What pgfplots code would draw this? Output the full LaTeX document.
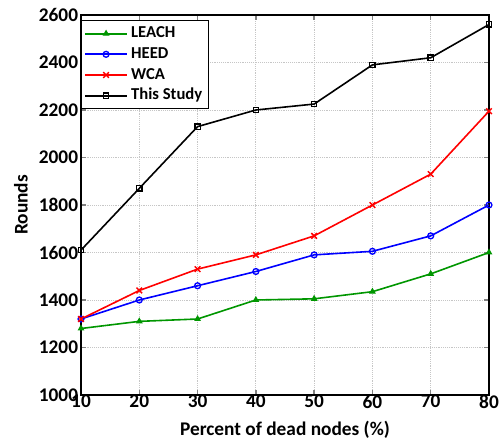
\documentclass[border=0pt]{standalone}
\usepackage{fontspec}
\setmainfont{Carlito}
\usepackage{pgfplots}
\pgfplotsset{compat=1.18}
\begin{document}
\bfseries\fontsize{14.5}{16}\selectfont
\begin{tikzpicture}
\begin{axis}[
  scale only axis,
  width=306pt, height=285pt,
  xmin=10, xmax=80, ymin=1000, ymax=2600,
  xtick={10,20,...,80}, ytick={1000,1200,...,2600},
  /pgf/number format/assume math mode=true,
  /pgf/number format/1000 sep={},
  tick label style={font=\bfseries\fontsize{14.5}{16}\selectfont},
  yticklabel style={inner xsep=2pt, inner ysep=0pt},
  xticklabel style={inner ysep=0pt, inner xsep=0pt},
  label style={font=\bfseries\fontsize{14.5}{16}\selectfont},
  xlabel={Percent of dead nodes (\%)},
  ylabel={Rounds},
  xlabel style={at={(axis description cs:0.5,-0.1067)}, anchor=base, inner sep=0pt},
  ylabel style={at={(axis description cs:-0.1299,0.5)}, anchor=south, inner sep=0pt},
  grid=major,
  major grid style={gray!45, densely dotted, line width=0.6pt},
  tick align=inside,
  axis line style={line width=1.3pt},
  major tick style={line width=1pt},
  major tick length=4pt,
  legend style={draw=black, line width=1pt, font=\bfseries\fontsize{12.5}{14}\selectfont,
    row sep=0pt, inner xsep=2pt, inner ysep=2pt, at={(0,1)}, anchor=north west, yshift=-3.75pt,
    nodes={text height=9pt, text depth=2.5pt, inner ysep=2pt, inner xsep=2.5pt}},
  legend cell align=left,
  legend image code/.code={\draw[#1,line width=1.6pt,mark repeat=2,mark phase=2] plot coordinates {(0pt,0pt) (15.5pt,0pt) (31pt,0pt)};},
  every axis plot/.append style={line width=1.2pt, mark size=2.2pt},
]
\addplot[color={rgb,255:red,0;green,150;blue,0}, mark=triangle*, mark options={solid,line width=0.8pt}] coordinates {
(10,1280) (20,1310) (30,1320) (40,1400) (50,1405) (60,1435) (70,1510) (80,1600)};
\addlegendentry{LEACH}
\addplot[color=blue, mark=o, mark options={line width=1pt}] coordinates {
(10,1320) (20,1400) (30,1460) (40,1520) (50,1590) (60,1605) (70,1670) (80,1800)};
\addlegendentry{HEED}
\addplot[color=red, mark=x, mark size=3pt, mark options={line width=1.1pt}] coordinates {
(10,1320) (20,1440) (30,1530) (40,1590) (50,1670) (60,1800) (70,1930) (80,2195)};
\addlegendentry{WCA}
\addplot[color=black, mark=square, mark size=2pt, mark options={line width=1pt}] coordinates {
(10,1610) (20,1870) (30,2130) (40,2200) (50,2225) (60,2390) (70,2420) (80,2560)};
\addlegendentry{This Study}
\end{axis}
\path ([xshift=-60.75pt,yshift=11.25pt]current axis.north west) rectangle ([xshift=9.75pt,yshift=-35.25pt]current axis.south east);
\end{tikzpicture}
\end{document}
